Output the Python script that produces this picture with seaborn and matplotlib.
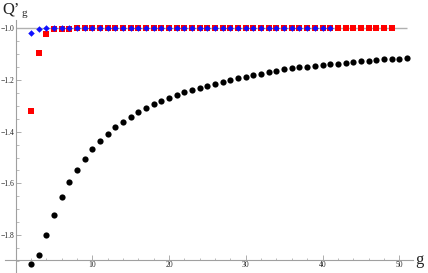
import matplotlib
matplotlib.use("Agg")
import matplotlib.pyplot as plt
from matplotlib.ticker import FixedLocator, MultipleLocator, FuncFormatter
import seaborn as sns
import pandas as pd
import numpy as np

# Data (g on the x axis, Q'_g on the y axis)
g_black = list(range(2, 52))
q_black = [-1.912, -1.878, -1.799, -1.723, -1.654, -1.595, -1.548, -1.506, -1.468, -1.435,
           -1.408, -1.383, -1.363, -1.342, -1.326, -1.308, -1.293, -1.281, -1.269, -1.258,
           -1.248, -1.238, -1.230, -1.223, -1.216, -1.208, -1.201, -1.194, -1.188, -1.183,
           -1.177, -1.169, -1.164, -1.160, -1.156, -1.152, -1.149, -1.146, -1.143, -1.140,
           -1.137, -1.134, -1.131, -1.128, -1.126, -1.124, -1.121, -1.119, -1.118, -1.116]

g_red = list(range(2, 50))
q_red = [-1.321, -1.098, -1.024, -1.005, -1.004, -1.004] + [-1.001] * 42

g_blue = list(range(2, 42))
q_blue = [-1.020, -1.003] + [-1.001] * 38

y_ticks = [-1.8, -1.6, -1.4, -1.2, -1.0]
x_ticks = [10, 20, 30, 40, 50]

sns.set_style("white")
plt.rcParams['font.family'] = ['Liberation Serif', 'DejaVu Serif']

W, H = 428, 273
fig = plt.figure(figsize=(W / 100, H / 100), dpi=100)
# axes box in pixels: x 5..413, y 20..272
ax = fig.add_axes([5 / W, 1 - 272 / H, 408 / W, 252 / H])
ax.set_xlim(-1.4, 51.8)
ax.set_ylim(-1.942, -0.969)

# reference line at -1
ax.hlines(-1.0, 0, max(g_black), color="#b0b0b0", lw=1.0, zorder=1)

df_black = pd.DataFrame({"g": g_black, "q": q_black})
df_red = pd.DataFrame({"g": g_red, "q": q_red})
df_blue = pd.DataFrame({"g": g_blue, "q": q_blue})

sns.scatterplot(data=df_black, x="g", y="q", ax=ax, color="black", marker="o",
                s=20, linewidth=0, clip_on=False, zorder=3)
sns.scatterplot(data=df_red, x="g", y="q", ax=ax, color="#ff0000", marker="s",
                s=14, linewidth=0, clip_on=False, zorder=3)
sns.scatterplot(data=df_blue, x="g", y="q", ax=ax, color="#1010ff", marker="D",
                s=11, linewidth=0, clip_on=False, zorder=4)

# Mathematica style axes through (0, -1.896)
for side in ["top", "right"]:
    ax.spines[side].set_visible(False)
ax.spines["left"].set_position(("data", 0))
ax.spines["bottom"].set_position(("data", -1.896))
for side in ["left", "bottom"]:
    ax.spines[side].set_color("#a0a0a0")
    ax.spines[side].set_linewidth(0.8)

ax.xaxis.set_major_locator(FixedLocator(x_ticks))
ax.xaxis.set_minor_locator(MultipleLocator(2))
ax.yaxis.set_major_locator(FixedLocator(y_ticks))
ax.yaxis.set_minor_locator(MultipleLocator(0.05))
ax.yaxis.set_major_formatter(FuncFormatter(lambda v, _: f"{v:.1f}".replace("-", "\u2212")))
ax.tick_params(which="major", direction="in", length=3.5, width=0.6, color="#a0a0a0",
               labelsize=5.5, pad=1, left=True, bottom=True)
ax.tick_params(which="minor", direction="in", length=1.8, width=0.5, color="#a0a0a0",
               left=True, bottom=True)
ax.set_xlabel("")
ax.set_ylabel("")
ax.grid(False)

fig.text(415 / W, 1 - 260 / H, "g", fontsize=12, va="center", ha="left")
fig.text(2 / W, 1 - 2 / H, "Q\u2019", fontsize=12, va="top", ha="left")
fig.text(22 / W, 1 - 9 / H, "g", fontsize=8, va="top", ha="left")

fig.savefig("out.png", dpi=100)
plt.close(fig)
